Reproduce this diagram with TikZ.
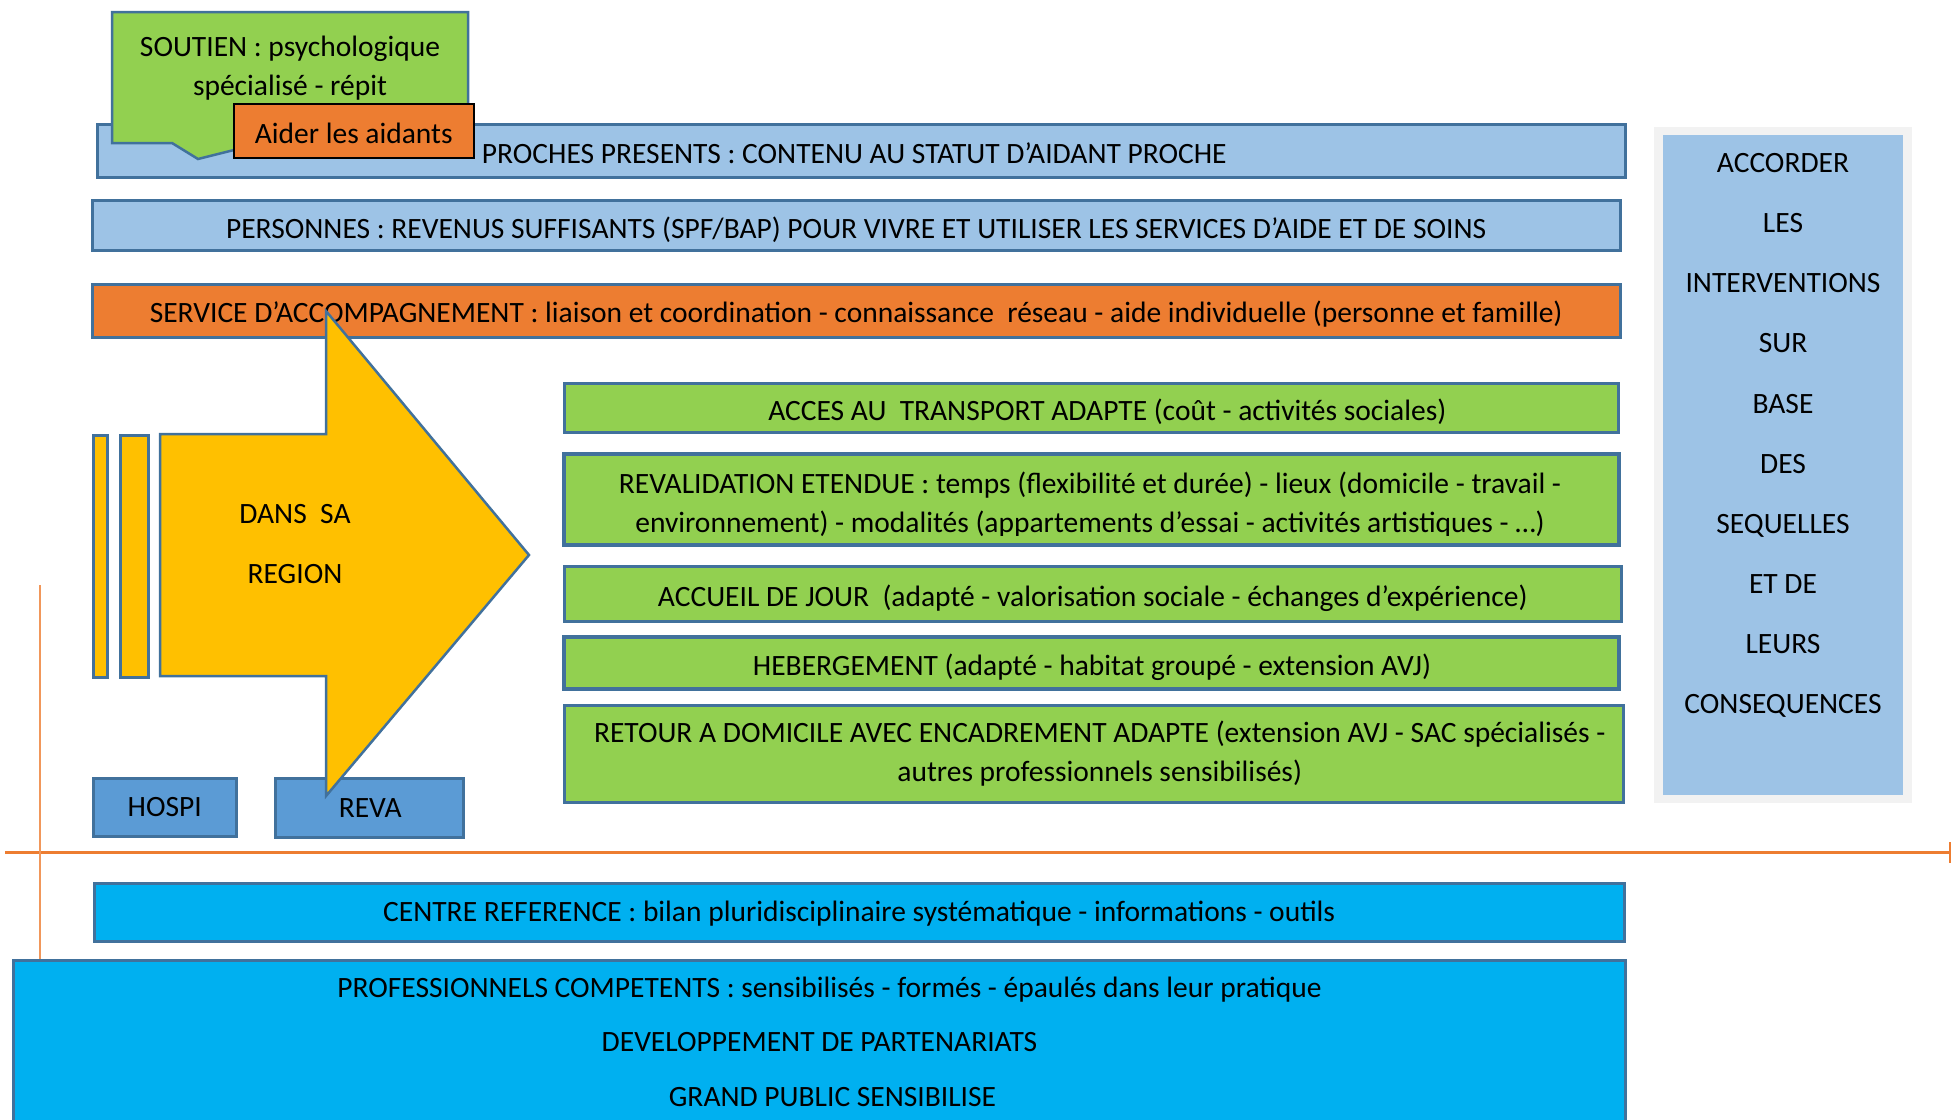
\documentclass[tikz,border=0pt]{standalone}
\usepackage{fontspec}
\setmainfont{Carlito}
\definecolor{bord}{HTML}{41719C}
\definecolor{lblue}{HTML}{9DC3E6}
\definecolor{orng}{HTML}{ED7D31}
\definecolor{grn}{HTML}{92D050}
\definecolor{ylw}{HTML}{FFC000}
\definecolor{mblue}{HTML}{5B9BD5}
\definecolor{cyanb}{HTML}{00B0F0}
\definecolor{pgray}{HTML}{F2F2F2}
\begin{document}
\begin{tikzpicture}[x=1pt,y=-1pt,
  box/.style={draw=bord, line width=2.5pt, inner sep=0pt, anchor=north west,
    font=\fontsize{29.5}{39}\selectfont, align=center},
  lowtext/.style={text height=26pt, text depth=0pt},
  txt/.style={font=\fontsize{29.5}{39}\selectfont, align=center, inner sep=0pt},
  shp/.style={draw=bord, line width=2.5pt},
  axis/.style={draw=orng, line width=3pt}]
\useasboundingbox (0,0) rectangle (1953,1119);

% top bars
\node[box, lowtext, fill=lblue, minimum width=1528pt, minimum height=53pt] (proches) at (96,123)
  {\hspace*{-14pt}PROCHES PRESENTS : CONTENU AU STATUT D’AIDANT PROCHE};
\draw[shp, fill=grn] (112,12) -- (468,12) -- (468,143) -- (262,143) -- (198,159)
  -- (172,143) -- (112,143) -- cycle;
\node[txt] (soutien) at (290,68.5) {SOUTIEN : psychologique\\spécialisé - répit};
\node[draw=black, line width=1.5pt, fill=orng, minimum width=240pt, minimum height=54pt,
  anchor=north west, inner sep=0pt, font=\fontsize{29.5}{39}\selectfont, text height=25pt, text depth=0pt] (aider) at (233,103)
  {Aider les aidants};

\node[box, lowtext, fill=lblue, minimum width=1528pt, minimum height=50pt] (personnes) at (91,199)
  {PERSONNES : REVENUS SUFFISANTS (SPF/BAP) POUR VIVRE ET UTILISER LES SERVICES D’AIDE ET DE SOINS};
\node[box, fill=orng, minimum width=1528pt, minimum height=53pt, text height=23pt, text depth=0pt] (service) at (91,283)
  {SERVICE D’ACCOMPAGNEMENT : liaison et coordination - connaissance\ \ réseau - aide individuelle (personne et famille)};

% left block
\node[box, fill=ylw, minimum width=14pt, minimum height=242pt] (bar1) at (92,434) {};
\node[box, fill=ylw, minimum width=28pt, minimum height=242pt] (bar2) at (119,434) {};
\node[box, fill=mblue, minimum width=143pt, minimum height=58pt] (hospi) at (92,777) {HOSPI};
\node[box, fill=mblue, minimum width=188pt, minimum height=59pt, text width=188pt] (reva) at (274,777) {\hspace*{2pt}REVA};
\draw[shp, fill=ylw] (160,434) -- (326,434) -- (326,311) -- (529,555) -- (326,796)
  -- (326,676) -- (160,676) -- cycle;
\node[txt, font=\fontsize{29.5}{60}\selectfont] (region) at (295,544) {DANS\ \ SA\\REGION};

% green boxes
\node[box, lowtext, fill=grn, minimum width=1054pt, minimum height=49pt] (acces) at (563,382)
  {\hspace*{32pt}ACCES AU\ \ TRANSPORT ADAPTE (coût - activités sociales)};
\node[box, fill=grn, minimum width=1054pt, minimum height=90pt] (reval) at (563,453) {};
\begin{scope}
  \clip (reval.north west) rectangle ([yshift=10.5pt]reval.south east);
  \node[txt] (revaltxt) at (1090,505) {REVALIDATION ETENDUE : temps (flexibilité et durée) - lieux (domicile - travail -\\environnement) - modalités (appartements d’essai - activités artistiques - …)};
\end{scope}
\draw[shp] (reval.north west) rectangle (reval.south east);
\node[box, lowtext, fill=grn, minimum width=1057pt, minimum height=55pt] (accueil) at (563,565)
  {ACCUEIL DE JOUR\ \ (adapté - valorisation sociale - échanges d’expérience)};
\node[box, fill=grn, minimum width=1054pt, minimum height=51pt] (heberg) at (563,636) {};
\begin{scope}
  \clip (heberg.north west) rectangle ([yshift=9.5pt]heberg.south east);
  \node[txt] (hebergtxt) at (1092,667) {HEBERGEMENT (adapté - habitat groupé - extension AVJ)};
\end{scope}
\draw[shp] (heberg.north west) rectangle (heberg.south east);
\node[box, fill=grn, minimum width=1059pt, minimum height=97pt] (retour) at (563,704)
  {\hspace*{12pt}RETOUR A DOMICILE AVEC ENCADREMENT ADAPTE (extension AVJ - SAC spécialisés -\\\hspace*{12pt}autres professionnels sensibilisés)};

% right panel
\node[fill=pgray, minimum width=258pt, minimum height=676pt, anchor=north west, inner sep=0pt] (panelbg) at (1654,127) {};
\node[fill=lblue, minimum width=240pt, minimum height=660pt, anchor=north west, inner sep=0pt] (panel) at (1663,135) {};
\node[txt, font=\fontsize{29.5}{60.1}\selectfont] (paneltxt) at (1783,435.5)
  {ACCORDER\\LES\\INTERVENTIONS\\SUR\\BASE\\DES\\SEQUELLES\\ET DE\\LEURS\\CONSEQUENCES};

% bottom
\node[box, fill=cyanb, minimum width=1530pt, minimum height=58pt, text depth=2pt] (centre) at (93,882)
  {CENTRE REFERENCE : bilan pluridisciplinaire systématique - informations - outils};
\node[box, fill=cyanb, minimum width=1612pt, minimum height=180pt] (pros) at (12,959) {};
\node[txt, font=\fontsize{29.5}{54.5}\selectfont] (prostxt) at (824,1041.5)
  {\hspace*{11pt}PROFESSIONNELS COMPETENTS : sensibilisés - formés - épaulés dans leur pratique\\\hspace*{-9pt}DEVELOPPEMENT DE PARTENARIATS\\\hspace*{17pt}GRAND PUBLIC SENSIBILISE};

% axes
\coordinate (hl) at (5,852);
\coordinate (hr) at (1950,852);
\coordinate (vt) at (40,585);
\draw[axis] (hl) -- (hr);
\draw[draw=orng, line width=2pt] (1950,842) -- (1950,863);
\draw[draw=orng!80, line width=1.2pt] (vt) -- (pros.north west -| vt);
\end{tikzpicture}
\end{document}
